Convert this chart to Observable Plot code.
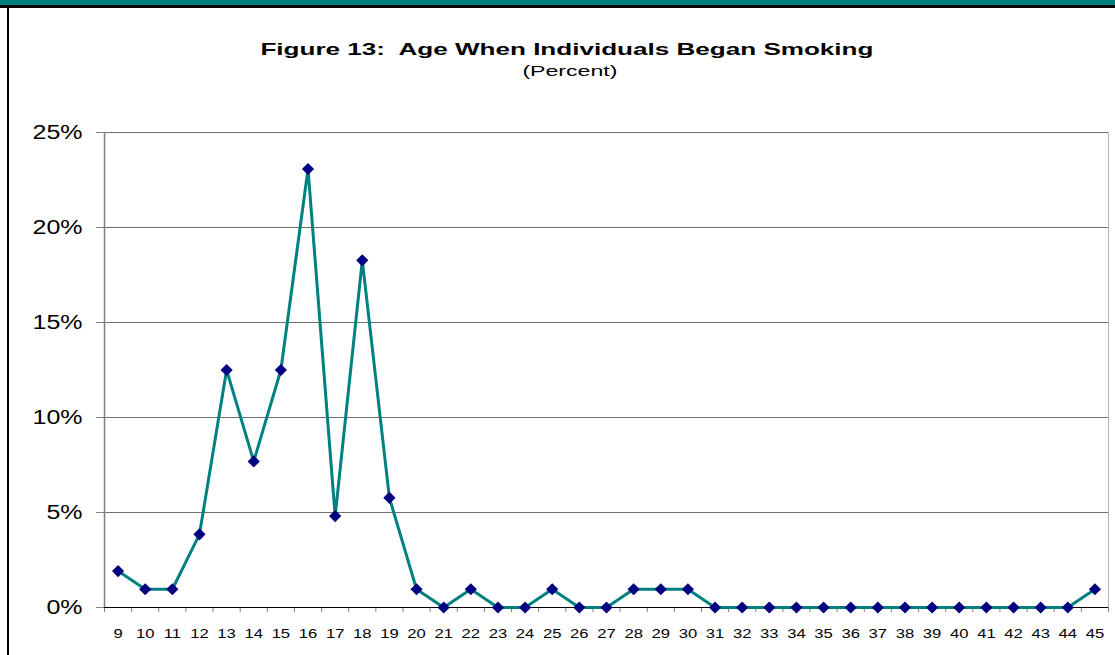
<!DOCTYPE html>
<html>
<head>
<meta charset="utf-8">
<script src="https://cdn.jsdelivr.net/npm/d3@7"></script>
<script src="https://cdn.jsdelivr.net/npm/@observablehq/plot@0.6"></script>
<style>
  html, body { margin: 0; padding: 0; background: #fff; }
  #wrap { position: relative; width: 1115px; height: 655px; overflow: hidden;
          font-family: "Liberation Sans", Arial, sans-serif; color: #000; }
  #band { position: absolute; left: 0; top: 0; width: 1115px; height: 5px; background: #008080; }
  #bandline { position: absolute; left: 0; top: 5px; width: 1115px; height: 3px; background: #000; }
  #leftline { position: absolute; left: 7px; top: 8px; width: 2px; height: 647px; background: #000; }
  #header { position: relative; height: 100px; }
  .t { position: absolute; white-space: nowrap; text-align: center; }
  .t span { display: inline-block; transform-origin: 50% 50%; }
  #title { top: 40.5px; left: 18px; width: 1097px; font-size: 17px; line-height: 17px; font-weight: bold; }
  #subtitle { top: 63px; left: 24px; width: 1091px; font-size: 15.5px; line-height: 16px; }
  #chart { position: relative; }
</style>
</head>
<body>
<div id="wrap">
  <div id="header">
    <div class="t" id="title"><span>Figure 13:&nbsp; Age When Individuals Began Smoking</span></div>
    <div class="t" id="subtitle"><span>(Percent)</span></div>
  </div>
  <div id="chart"></div>
  <div id="band"></div>
  <div id="bandline"></div>
  <div id="leftline"></div>
</div>
<script>
// ---- data ----
const ages = [9,10,11,12,13,14,15,16,17,18,19,20,21,22,23,24,25,26,27,28,29,30,31,32,33,34,35,36,37,38,39,40,41,42,43,44,45];
const percents = [1.92,0.96,0.96,3.85,12.5,7.69,12.5,23.08,4.81,18.27,5.77,0.96,0,0.96,0,0,0.96,0,0,0.96,0.96,0.96,0,0,0,0,0,0,0,0,0,0,0,0,0,0,0.96];
const yTicks = [0,5,10,15,20,25];
const gridValues = [5,10,15,20,25];

const data = ages.map((a, i) => ({age: a, pct: percents[i]}));
const first = ages[0] - 0.5, last = ages[ages.length - 1] + 0.5;
const boundaries = ages.map(a => a - 0.5).concat([last]);

const plot = Plot.plot({
  width: 1115,
  height: 555,
  marginTop: 32,
  marginBottom: 48,
  marginLeft: 104,
  marginRight: 7,
  style: {fontFamily: "'Liberation Sans', Arial, sans-serif", color: "#000", background: "transparent"},
  x: {type: "linear", domain: [first, last]},
  y: {domain: [0, 25]},
  marks: [
    Plot.ruleY(gridValues, {stroke: "#707070", strokeWidth: 1}),
    Plot.ruleX([last], {y1: 0, y2: 25, stroke: "#b4b4b4", strokeWidth: 1}),
    Plot.ruleX([first], {y1: 0, y2: 25, stroke: "#808080", strokeWidth: 1.5}),
    Plot.axisY({ticks: yTicks, tickSize: 8, tickPadding: 14, fontSize: 19.5, stroke: "#808080", fill: "#000",
                tickFormat: d => d + "%", label: null}),
    Plot.axisX({ticks: boundaries, tickSize: 5, stroke: "#808080", tickFormat: () => "", label: null}),
    Plot.axisX({ticks: ages, tickSize: 0, tickPadding: 21, fontSize: 13, fill: "#000",
                tickFormat: d => String(d), label: null}),
    Plot.ruleY([0], {stroke: "#000", strokeWidth: 1.2}),
    Plot.line(data, {x: "age", y: "pct", stroke: "#008080", strokeWidth: 3}),
    Plot.dot(data, {x: "age", y: "pct", symbol: "diamond2", r: 5.5, fill: "#000080", stroke: "none"})
  ]
});
document.getElementById("chart").appendChild(plot);

// horizontal stretch of tick-label glyphs to match the reference widths
function stretchSvgText(texts, sample, target) {
  if (!sample) return;
  const w = sample.getComputedTextLength();
  if (!(w > 0)) return;
  const s = target / w;
  texts.forEach(t => {
    const tw = t.getComputedTextLength();
    if (tw > 0) {
      t.setAttribute("textLength", (tw * s).toFixed(2));
      t.setAttribute("lengthAdjust", "spacingAndGlyphs");
    }
  });
}
const allText = Array.from(plot.querySelectorAll("text")).filter(t => t.textContent.trim() !== "");
const yText = allText.filter(t => t.textContent.includes("%"));
const xText = allText.filter(t => !t.textContent.includes("%"));
stretchSvgText(yText, yText.find(t => t.textContent === "25%"), 50);
stretchSvgText(xText, xText.find(t => t.textContent === "10"), 18.5);

function stretchHtml(id, target) {
  const sp = document.querySelector("#" + id + " span");
  const w = sp.getBoundingClientRect().width;
  if (w) sp.style.transform = `scaleX(${target / w})`;
}
stretchHtml("title", 613);
stretchHtml("subtitle", 95);
</script>
</body>
</html>
